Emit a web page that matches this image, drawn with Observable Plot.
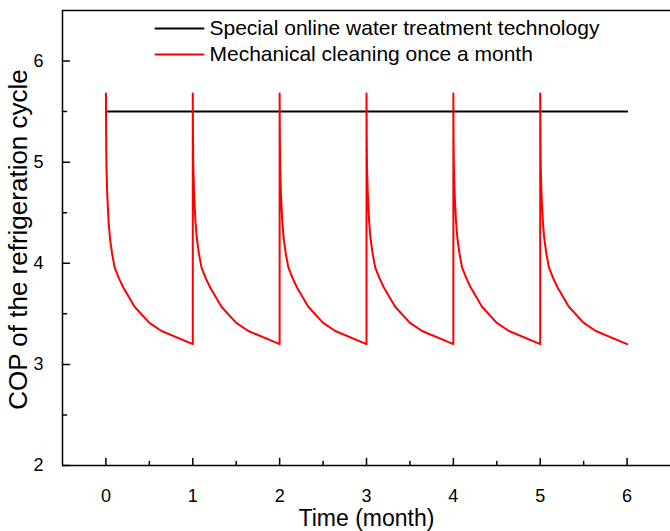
<!DOCTYPE html>
<html><head><meta charset="utf-8">
<script src="https://cdn.jsdelivr.net/npm/d3@7"></script>
<script src="https://cdn.jsdelivr.net/npm/@observablehq/plot@0.6"></script>
<style>body{margin:0;background:#fff} svg{display:block}</style>
</head><body><div id="chart"></div>
<script>
const mechTime = [
  0, 0.002, 0.006, 0.015, 0.03, 0.046, 0.07, 0.1, 0.15, 0.2, 0.33, 0.5, 0.64, 1,
  1, 1.002, 1.006, 1.015, 1.03, 1.046, 1.07, 1.1, 1.15, 1.2, 1.33, 1.5, 1.64, 2,
  2, 2.002, 2.006, 2.015, 2.03, 2.046, 2.07, 2.1, 2.15, 2.2, 2.33, 2.5, 2.64, 3,
  3, 3.002, 3.006, 3.015, 3.03, 3.046, 3.07, 3.1, 3.15, 3.2, 3.33, 3.5, 3.64, 4,
  4, 4.002, 4.006, 4.015, 4.03, 4.046, 4.07, 4.1, 4.15, 4.2, 4.33, 4.5, 4.64, 5,
  5, 5.002, 5.006, 5.015, 5.03, 5.046, 5.07, 5.1, 5.15, 5.2, 5.33, 5.5, 5.64, 6
];
const mechCOP = [
  5.68, 5.3, 4.95, 4.68, 4.42, 4.25, 4.1, 3.96, 3.85, 3.76, 3.57, 3.41, 3.33, 3.2,
  5.68, 5.3, 4.95, 4.68, 4.42, 4.25, 4.1, 3.96, 3.85, 3.76, 3.57, 3.41, 3.33, 3.2,
  5.68, 5.3, 4.95, 4.68, 4.42, 4.25, 4.1, 3.96, 3.85, 3.76, 3.57, 3.41, 3.33, 3.2,
  5.68, 5.3, 4.95, 4.68, 4.42, 4.25, 4.1, 3.96, 3.85, 3.76, 3.57, 3.41, 3.33, 3.2,
  5.68, 5.3, 4.95, 4.68, 4.42, 4.25, 4.1, 3.96, 3.85, 3.76, 3.57, 3.41, 3.33, 3.2,
  5.68, 5.3, 4.95, 4.68, 4.42, 4.25, 4.1, 3.96, 3.85, 3.76, 3.57, 3.41, 3.33, 3.2
];
const onlineTime = [0, 6];
const onlineCOP = [5.5, 5.5];
const seriesNames = ["Special online water treatment technology", "Mechanical cleaning once a month"];
const seriesColors = ["#000000", "#ff0000"];
const xDomain = [-0.5, 6.5];
const yDomain = [2, 6.5];
const xTicks = [0, 1, 2, 3, 4, 5, 6];
const xMinorTicks = [0.5, 1.5, 2.5, 3.5, 4.5, 5.5];
const yTicks = [2, 3, 4, 5, 6];
const yMinorTicks = [2.5, 3.5, 4.5, 5.5];
const xLabel = "Time (month)";
const yLabel = "COP of the refrigeration cycle";

const mech = mechTime.map((t, i) => ({t, cop: mechCOP[i]}));
const online = onlineTime.map((t, i) => ({t, cop: onlineCOP[i]}));

const font = "'Liberation Sans', Arial, sans-serif";
const lineShape = {draw(ctx, l) { ctx.moveTo(0, 0); ctx.lineTo(0, -l); }};

const legendMarks = seriesNames.flatMap((name, i) => [
  Plot.vector([name], {frameAnchor: "top-left", dx: 93, dy: 18 + 26 * i, rotate: 90, length: 48,
    anchor: "start", shape: lineShape, stroke: seriesColors[i], strokeWidth: 2}),
  Plot.text([name], {frameAnchor: "top-left", dx: 147, dy: 18 + 26 * i, textAnchor: "start",
    lineAnchor: "middle", fontSize: 21, fill: "#000"})
]);

const xTickMarks = (ticks, len) => Plot.vector(ticks, {x: d => d, frameAnchor: "bottom", length: len,
  anchor: "start", shape: lineShape, stroke: "#000", strokeWidth: 1.5});
const yTickMarks = (ticks, len) => Plot.vector(ticks, {y: d => d, frameAnchor: "left", rotate: 90, length: len,
  anchor: "start", shape: lineShape, stroke: "#000", strokeWidth: 1.5});

const chart = Plot.plot({
  width: 670, height: 531,
  marginLeft: 62, marginTop: 10, marginRight: 0, marginBottom: 66,
  style: {fontFamily: font, background: "#fff", color: "#000"},
  x: {domain: xDomain},
  y: {domain: yDomain},
  marks: [
    Plot.line(online, {x: "t", y: "cop", stroke: seriesColors[0], strokeWidth: 2}),
    Plot.line(mech, {x: "t", y: "cop", stroke: seriesColors[1], strokeWidth: 2}),
    Plot.ruleX([xDomain[0]], {stroke: "#000", strokeWidth: 1.5}),
    Plot.ruleY([yDomain[0], yDomain[1]], {stroke: "#000", strokeWidth: 1.5}),
    xTickMarks(xTicks, 7),
    xTickMarks(xMinorTicks, 4),
    yTickMarks(yTicks, 7),
    yTickMarks(yMinorTicks, 4),
    Plot.axisX({ticks: xTicks, tickSize: 0, tickPadding: 24, fontSize: 18, label: null, tickFormat: d3.format("d")}),
    Plot.axisY({ticks: yTicks, tickSize: 0, tickPadding: 19, fontSize: 18, label: null, tickFormat: d3.format("d")}),
    Plot.text([xLabel], {frameAnchor: "bottom", dy: 53, lineAnchor: "middle", textAnchor: "middle", fontSize: 23, fill: "#000"}),
    Plot.text([yLabel], {frameAnchor: "left", rotate: -90, dx: -44, dy: 1.5, lineAnchor: "middle", textAnchor: "middle", fontSize: 26, fill: "#000"}),
    ...legendMarks
  ]
});
document.getElementById("chart").append(chart);
</script>
</body></html>
